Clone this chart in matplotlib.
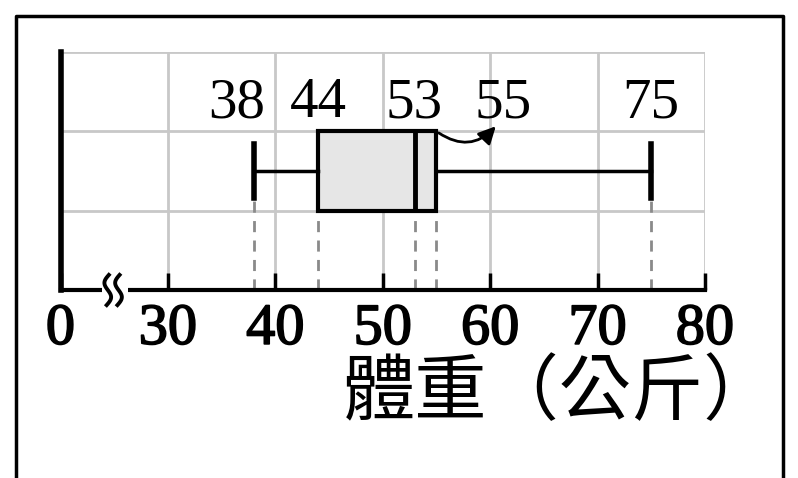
import numpy as np
import matplotlib.pyplot as plt
import matplotlib.patheffects as pe
from matplotlib.lines import Line2D
from matplotlib.patches import FancyArrowPatch, Rectangle

# five-number summary of the weights (kg)
whislo = 38
q1 = 44
med = 53
q3 = 55
whishi = 75
summary = [whislo, q1, med, q3, whishi]

# the axis is broken: position 20 stands for 0
ticks = [20, 30, 40, 50, 60, 70, 80]
tick_labels = ['0', '30', '40', '50', '60', '70', '80']
xlabel = '體重（公斤）'

# small sideways nudges so the labels do not collide
label_nudge = [-1.6, 0.0, -0.1, 6.2, 0.0]

serif = 'Liberation Serif'

fig = plt.figure(figsize=(7.98, 4.78), dpi=100)
ax = fig.add_axes([60.5 / 798, 188 / 478, (705 - 60.5) / 798, (290 - 52) / 478])
ax.set_xlim(20, 80)
ax.set_ylim(0, 3)

# grid
ax.set_xticks(ticks)
ax.set_xticklabels(tick_labels, family=serif, fontsize=42)
for lab in ax.get_xticklabels():
    lab.set_path_effects([pe.withStroke(linewidth=1.2, foreground='black')])
ax.set_yticks([1, 2, 3])
ax.grid(True, color='#c8c8c8', lw=2, zorder=0)
ax.set_axisbelow(True)
ax.tick_params(axis='x', direction='in', length=12, width=2.5, pad=10)
ax.tick_params(axis='y', length=0, labelleft=False)
for s in ['top', 'right']:
    ax.spines[s].set_visible(False)
ax.spines['left'].set_linewidth(4)
ax.spines['bottom'].set_linewidth(3)

# box plot
stats = [dict(whislo=whislo, q1=q1, med=med, q3=q3, whishi=whishi, fliers=[])]
ax.bxp(stats, positions=[1.5], widths=1.0, capwidths=0.67,
       orientation='horizontal', patch_artist=True, showfliers=False,
       manage_ticks=False,
       boxprops=dict(facecolor='#e6e6e6', edgecolor='black', linewidth=3),
       medianprops=dict(color='black', linewidth=3.5),
       whiskerprops=dict(color='black', linewidth=2.5),
       capprops=dict(color='black', linewidth=4))

# dashed drop lines down to the axis
tops = [1.5 - 0.335, 1, 1, 1, 1.5 - 0.335]
ax.vlines(summary, 0, tops, colors='#8a8a8a', linestyles=(0, (4, 3)), lw=2, zorder=1)

# value labels
for v, dx in zip(summary, label_nudge):
    ax.text(v + dx, 2.18, str(v), ha='center', va='baseline',
            family=serif, fontsize=41)

# arrow from Q3 to its label
arrow = FancyArrowPatch((q3, 2.0), (q3 + 5.7, 2.09),
                        connectionstyle='arc3,rad=0.45', arrowstyle='-|>',
                        mutation_scale=26, lw=2, color='black')
ax.add_patch(arrow)

# axis break
ax.add_patch(Rectangle((23.9, -0.08), 2.4, 0.16, facecolor='white',
                       edgecolor='none', zorder=5, clip_on=False))
t = np.linspace(0, 1, 60)
for xc in [24.4, 25.4]:
    xs = xc - 0.36 * np.sin(2 * np.pi * t) + 0.2 * (0.5 - t)
    ys = 0.19 - 0.38 * t
    ax.plot(xs, ys, color='black', lw=2.8, clip_on=False, zorder=6)

# axis title
fig.text(776 / 798, 1 - 394 / 478, xlabel, ha='right', va='center',
         family=['Noto Sans CJK TC', 'DejaVu Sans'], fontsize=52)

# outer frame
fig.add_artist(Line2D([16 / 798, 16 / 798, 783 / 798, 783 / 798],
                      [0, 1 - 16 / 478, 1 - 16 / 478, 0],
                      transform=fig.transFigure, color='black', lw=2.5))

fig.savefig('out.png', dpi=100)
